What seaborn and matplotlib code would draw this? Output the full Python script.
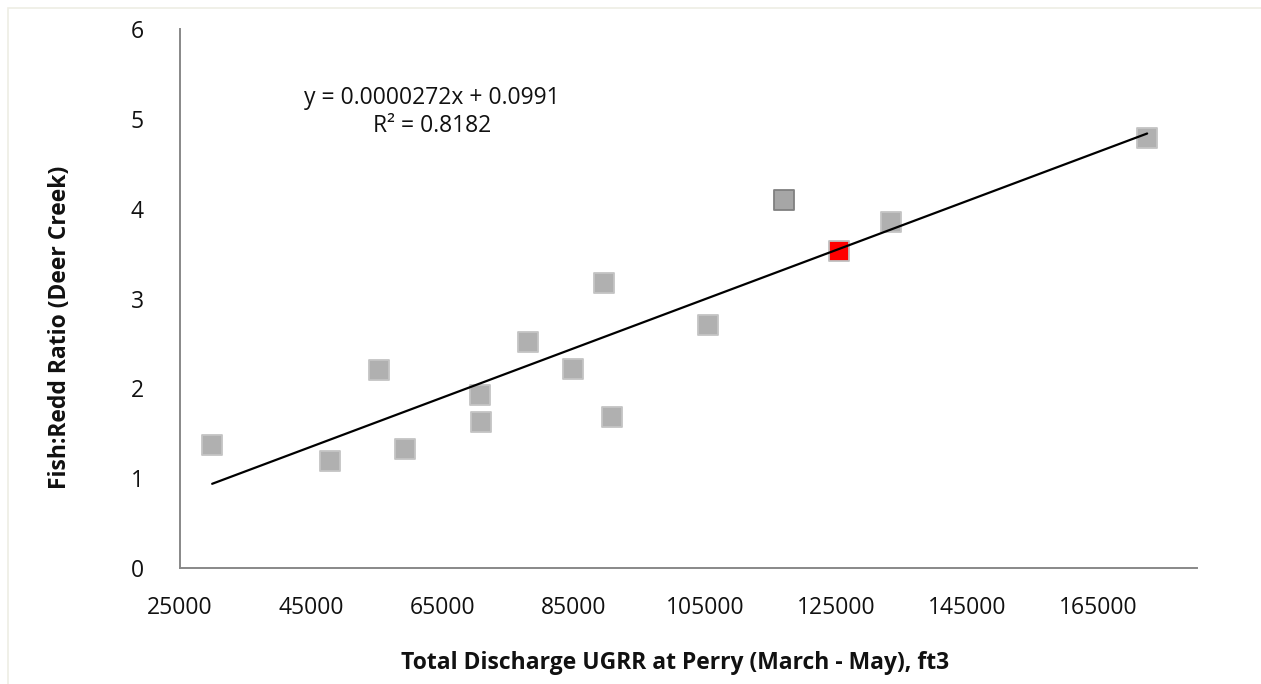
import numpy as np
import pandas as pd
import matplotlib.pyplot as plt
import seaborn as sns
from matplotlib.patches import Rectangle

# Dados
discharge = [29900, 47850, 55300, 59300, 70700, 70800, 78000, 84900,
             89600, 90800, 105400, 117000, 125400, 133400, 172400]
ratio = [1.37, 1.19, 2.20, 1.33, 1.93, 1.62, 2.52, 2.22,
         3.17, 1.68, 2.70, 4.10, 3.53, 3.85, 4.79]
group = ['base'] * 11 + ['dark', 'red', 'base', 'base']

x_ticks = [25000, 45000, 65000, 85000, 105000, 125000, 145000, 165000]
y_ticks = [0, 1, 2, 3, 4, 5, 6]
equation_text = 'y = 0.0000272x + 0.0991\nR² = 0.8182'

df = pd.DataFrame({'discharge': discharge, 'ratio': ratio, 'group': group})

sns.set_style('white')
plt.rcParams['font.family'] = ['Open Sans', 'DejaVu Sans']

fig = plt.figure(figsize=(12.61, 6.84), dpi=100)
ax = fig.add_axes([180 / 1261, 1 - 568 / 684, (1197 - 180) / 1261, (568 - 29) / 684])

# moldura clara do gráfico
fig.patches.append(Rectangle((8 / 1261, -0.1), 1.2, (684 - 8) / 684 + 0.1,
                             transform=fig.transFigure, fill=False,
                             edgecolor='#eeede4', linewidth=1.2))

styles = {'base': ('#b0b0b0', '#c4c4c4'),
          'dark': ('#a6a6a6', '#808080'),
          'red': ('#ff0000', '#c0c0c0')}
for g, (fc, ec) in styles.items():
    sub = df[df['group'] == g]
    sns.scatterplot(data=sub, x='discharge', y='ratio', marker='s', s=200,
                    color=fc, edgecolor=ec, linewidth=1.3, ax=ax, zorder=3)

sns.regplot(data=df, x='discharge', y='ratio', scatter=False, ci=None,
            truncate=True, color='black', line_kws={'linewidth': 1.6, 'zorder': 4}, ax=ax)

ax.set_xlim(25000, 180000)
ax.set_ylim(0, 6)
ax.set_xticks(x_ticks)
ax.set_yticks(y_ticks)
ax.set_xticklabels([str(t) for t in x_ticks])
ax.tick_params(axis='both', length=0, labelsize=16.5, colors='#111111')
ax.tick_params(axis='x', pad=20)
ax.tick_params(axis='y', pad=26)
ax.set_xlabel('')
ax.set_ylabel('')
sns.despine(ax=ax)
for side in ['left', 'bottom']:
    ax.spines[side].set_color('#888888')
    ax.spines[side].set_linewidth(1.4)

fig.text(432 / 1261, 1 - 112 / 684, equation_text, ha='center', va='center',
         fontsize=16.5, color='#111111', linespacing=1.2)

fig.text(675 / 1261, 1 - 663 / 684, 'Total Discharge UGRR at Perry (March - May), ft3',
         ha='center', va='center', fontsize=16.5, fontweight='bold', color='#111111')
fig.text(60 / 1261, 1 - 327 / 684, 'Fish:Redd Ratio (Deer Creek)', rotation=90,
         ha='center', va='center', fontsize=16.5, fontweight='bold', color='#111111')

plt.savefig('out.png', dpi=100)
